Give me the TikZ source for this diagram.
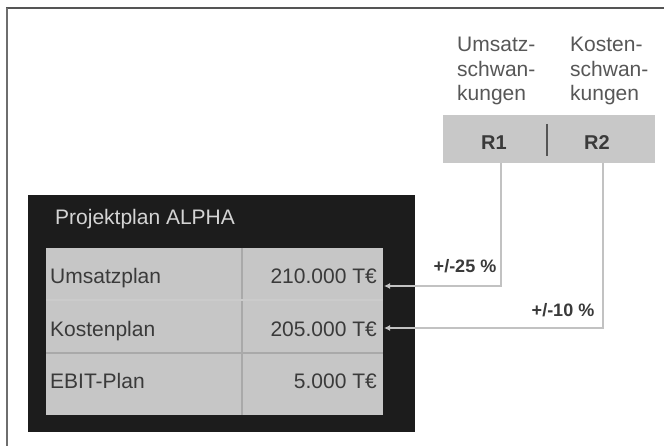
\documentclass[tikz,border=0pt]{standalone}
\usepackage{fontspec}
\setmainfont{Liberation Sans}
\usetikzlibrary{arrows.meta}
\definecolor{frameline}{HTML}{555555}
\definecolor{boxblack}{HTML}{1C1C1C}
\definecolor{cellgray}{HTML}{C6C6C6}
\definecolor{gridgray}{HTML}{A9A9A9}
\definecolor{txtdark}{HTML}{3A3A3A}
\definecolor{txtlight}{HTML}{D4D4D4}
\definecolor{connc}{HTML}{C2C2C2}
\definecolor{rfill}{HTML}{C8C8C8}
\tikzset{
  x=1pt, y=-1pt,
  body/.style={font=\fontsize{21}{25}\selectfont, text=txtdark, inner sep=0pt},
  hdr/.style={font=\fontsize{21}{24.5}\selectfont, text=txtdark!85, inner sep=0pt, align=left, anchor=north west},
  rlab/.style={font=\bfseries\fontsize{20}{22}\selectfont, text=txtdark, inner sep=0pt, anchor=base},
  pct/.style={font=\bfseries\fontsize{18}{22}\selectfont, text=txtdark, inner sep=0pt, anchor=base},
  conn/.style={draw=connc, line width=2pt, -{Latex[length=6pt,width=6pt]}},
  grid/.style={draw=gridgray, line width=1.2pt}
}
\begin{document}
\begin{tikzpicture}
\useasboundingbox (0,0) rectangle (664,446);
\fill[white] (0,0) rectangle (664,446);
% outer frame (top and left only)
\draw[frameline, line width=2pt] (6,8.5) -- (664,8.5);
\draw[frameline!85, line width=2pt] (6.5,8) -- (6.5,446);

% black project box and table
\node[fill=boxblack, minimum width=387pt, minimum height=237pt, inner sep=0pt, anchor=north west] (proj) at (28,195) {};
\node[fill=cellgray, minimum width=337pt, minimum height=167pt, inner sep=0pt, anchor=north west] (tbl) at (46,248) {};
\draw[grid] (242,248) -- (242,415);
\draw[grid, draw=gridgray!60] (46,300) -- (383,300);
\draw[grid] (46,353) -- (383,353);

\node[body, text=txtlight, anchor=base west] (title) at (55,225) {Projektplan ALPHA};
\node[body, anchor=base west] (l1) at (50,284) {Umsatzplan};
\node[body, anchor=base west] (l2) at (50,337) {Kostenplan};
\node[body, anchor=base west] (l3) at (50,388) {EBIT-Plan};
\node[body, anchor=base east] (v1) at (377,284) {210.000 T€};
\node[body, anchor=base east] (v2) at (377,337) {205.000 T€};
\node[body, anchor=base east] (v3) at (377,388) {5.000 T€};

% risk header box
\node[fill=rfill, minimum width=212pt, minimum height=48pt, inner sep=0pt, anchor=north west] (rbox) at (443,115) {};
\draw[frameline, line width=2pt] (547,124) -- (547,156);
\node[rlab] (r1) at (494,150) {R1};
\node[rlab] (r2) at (597,150) {R2};

\node[hdr] (h1) at (457,37) {Umsatz-\\schwan-\\kungen};
\node[hdr] (h2) at (570,37) {Kosten-\\schwan-\\kungen};

% connectors
\coordinate (s1) at (501,163);
\coordinate (s2) at (603,163);
\coordinate (e1) at (384,286);
\coordinate (e2) at (384,328);
\draw[conn] (s1) |- (e1);
\draw[conn] (s2) |- (e2);

\node[pct] (p1) at (465,273) {+/-25 \%};
\node[pct] (p2) at (563,317) {+/-10 \%};
\end{tikzpicture}
\end{document}
